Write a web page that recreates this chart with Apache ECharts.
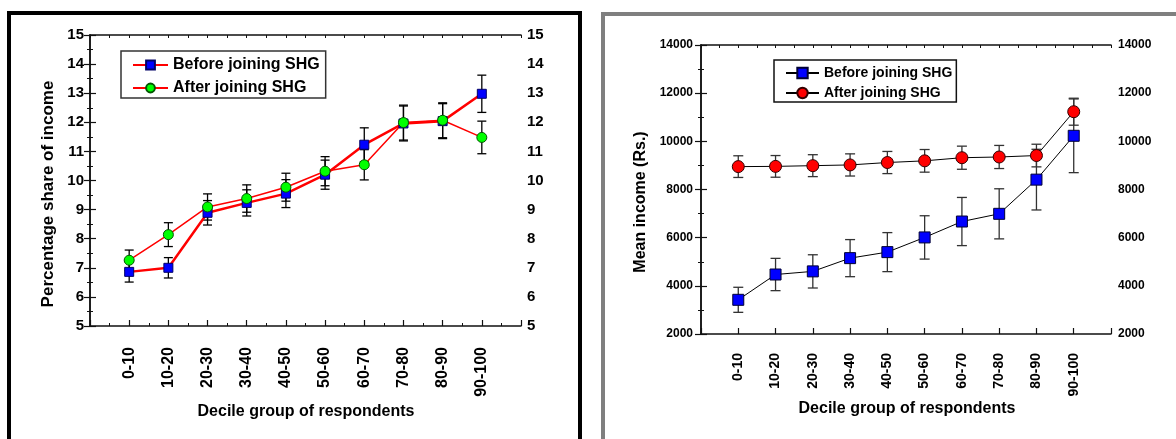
<!DOCTYPE html>
<html><head><meta charset="utf-8">
<script src="https://cdn.jsdelivr.net/npm/echarts@6/dist/echarts.min.js"></script>
<style>html,body{margin:0;padding:0;background:#fff;}#c{width:1176px;height:439px;}</style>
</head><body><div id="c"></div>
<script>
var categories = ['0-10','10-20','20-30','30-40','40-50','50-60','60-70','70-80','80-90','90-100'];
var shareTicks = [5,6,7,8,9,10,11,12,13,14,15];
var incomeTicks = [2000,4000,6000,8000,10000,12000,14000];

var shareBefore    = [6.86, 7.00, 8.89, 9.23, 9.55, 10.20, 11.23, 11.96, 12.04, 12.98];
var shareBeforeErr = [0.35, 0.35, 0.42, 0.45, 0.48, 0.50, 0.58, 0.60, 0.60, 0.64];
var shareAfter     = [7.26, 8.14, 9.09, 9.38, 9.77, 10.32, 10.54, 11.99, 12.07, 11.48];
var shareAfterErr  = [0.35, 0.41, 0.45, 0.47, 0.48, 0.50, 0.52, 0.60, 0.60, 0.56];

var incomeBefore    = [3420, 4470, 4600, 5150, 5400, 6010, 6670, 6990, 8410, 10230];
var incomeBeforeErr = [520, 670, 690, 770, 810, 900, 1000, 1040, 1260, 1530];
var incomeAfter     = [8950, 8960, 8990, 9020, 9120, 9190, 9320, 9350, 9410, 11230];
var incomeAfterErr  = [450, 450, 455, 460, 460, 470, 480, 480, 470, 560];

var FONT = "'Liberation Sans', Arial, sans-serif";

function pts(vals){ return vals.map(function(v,i){ return [i+1, v]; }); }
function errs(vals, e){ return vals.map(function(v,i){ return [i+1, v-e[i], v+e[i]]; }); }

function errSeries(data, xi, yi, color, lw, cap){
  return {
    type:'custom', xAxisIndex:xi, yAxisIndex:yi, data:data, silent:true,
    encode:{x:0, y:[1,2]},
    renderItem:function(params, api){
      var x = api.value(0);
      var a = api.coord([x, api.value(2)]);
      var b = api.coord([x, api.value(1)]);
      var st = {stroke:color, lineWidth:lw};
      return {type:'group', children:[
        {type:'line', shape:{x1:a[0], y1:a[1], x2:b[0], y2:b[1]}, style:st},
        {type:'line', shape:{x1:a[0]-cap, y1:a[1], x2:a[0]+cap, y2:a[1]}, style:st},
        {type:'line', shape:{x1:b[0]-cap, y1:b[1], x2:b[0]+cap, y2:b[1]}, style:st}
      ]};
    }
  };
}

function catFmt(v){ var i = Math.round(v); return (i>=1 && i<=10 && Math.abs(v-i)<1e-6) ? categories[i-1] : ''; }

function xBottom(g, fs, margin, minor){
  return {type:'value', gridIndex:g, position:'bottom', min:0, max:11, interval:1,
    axisLine:{show:true, lineStyle:{color:'#111', width:1.5}},
    axisTick:{show:true, inside:true, length:6, lineStyle:{color:'#111', width:1.2}},
    minorTick:{show:minor, splitNumber:2, length:3, lineStyle:{color:'#111', width:1}},
    splitLine:{show:false}, minorSplitLine:{show:false},
    axisLabel:{show:true, rotate:90, margin:margin, formatter:catFmt, color:'#000',
      fontSize:fs, fontWeight:'bold', fontFamily:FONT, showMinLabel:true, showMaxLabel:true}
  };
}
function xTop(g){
  return {type:'value', gridIndex:g, position:'top', min:0, max:11, interval:0.5,
    axisLine:{show:true, lineStyle:{color:'#111', width:1.5}},
    axisTick:{show:true, inside:true, length:3, lineStyle:{color:'#111', width:1}},
    splitLine:{show:false}, axisLabel:{show:false}
  };
}
function yAx(g, pos, ticks, fs, margin){
  return {type:'value', gridIndex:g, position:pos, min:ticks[0], max:ticks[ticks.length-1],
    interval:ticks[1]-ticks[0],
    axisLine:{show:true, lineStyle:{color:'#111', width:1.5}},
    axisTick:{show:true, inside:true, length:6, lineStyle:{color:'#111', width:1.2}},
    minorTick:{show:true, splitNumber:2, length:3, lineStyle:{color:'#111', width:1}},
    splitLine:{show:false}, minorSplitLine:{show:false},
    axisLabel:{show:true, margin:margin, color:'#000', fontSize:fs, fontWeight:'bold', fontFamily:FONT,
      formatter:function(v){ return String(v); },
      showMinLabel:true, showMaxLabel:true}
  };
}

var option = {
  animation:false,
  backgroundColor:'#fff',
  grid:[
    {left:90, top:35, width:431, height:291, outerBoundsMode:'none', containLabel:false},
    {left:701, top:45, width:410, height:289, outerBoundsMode:'none', containLabel:false}
  ],
  xAxis:[ xBottom(0, 16, 21, true), xTop(0), xBottom(1, 14, 19, false), xTop(1) ],
  yAxis:[ yAx(0,'left',shareTicks,15,6), yAx(0,'right',shareTicks,15,6),
          yAx(1,'left',incomeTicks,12,8), yAx(1,'right',incomeTicks,12,7) ],
  legend:[
    {orient:'vertical', left:121, top:51, padding:[6,6,2,11], itemGap:7, itemWidth:35, itemHeight:11,
     borderColor:'#333', borderWidth:1.5, backgroundColor:'#fff',
     data:['Before joining SHG','After joining SHG'],
     formatter:function(n){return n.trim();},
     textStyle:{fontSize:16, fontWeight:'bold', fontFamily:FONT, color:'#000'}},
    {orient:'vertical', left:774, top:60, padding:[6,4,2,11], itemGap:6, itemWidth:33, itemHeight:13,
     borderColor:'#111', borderWidth:1.5, backgroundColor:'#fff',
     data:['Before joining SHG ','After joining SHG '],
     formatter:function(n){return n.trim();},
     textStyle:{fontSize:14, fontWeight:'bold', fontFamily:FONT, color:'#000'}}
  ],
  graphic:{elements:[
    {type:'rect', shape:{x:9, y:13, width:571, height:450}, style:{fill:'none', stroke:'#000', lineWidth:4}, silent:true},
    {type:'rect', shape:{x:603, y:14, width:620, height:450}, style:{fill:'none', stroke:'#7f7f7f', lineWidth:4}, silent:true},
    {type:'text', x:48, y:194, rotation:Math.PI/2, style:{text:'Percentage share of income', font:'bold 17px '+FONT, fill:'#000', textAlign:'center', textVerticalAlign:'middle'}},
    {type:'text', x:306, y:412, style:{text:'Decile group of respondents', font:'bold 16px '+FONT, fill:'#000', textAlign:'center', textVerticalAlign:'middle'}},
    {type:'text', x:641, y:202, rotation:Math.PI/2, style:{text:'Mean income (Rs.)', font:'bold 16px '+FONT, fill:'#000', textAlign:'center', textVerticalAlign:'middle'}},
    {type:'text', x:907, y:409, style:{text:'Decile group of respondents', font:'bold 16px '+FONT, fill:'#000', textAlign:'center', textVerticalAlign:'middle'}}
  ]},
  series:[
    errSeries(errs(shareBefore, shareBeforeErr), 0, 0, '#000', 1.3, 4.5),
    errSeries(errs(shareAfter, shareAfterErr), 0, 0, '#000', 1.3, 4.5),
    {name:'Before joining SHG', type:'line', xAxisIndex:0, yAxisIndex:0, data:pts(shareBefore),
     symbol:'rect', symbolSize:9, lineStyle:{color:'#ff0000', width:2.5},
     itemStyle:{color:'#0000ff', borderColor:'#000066', borderWidth:1}},
    {name:'After joining SHG', type:'line', xAxisIndex:0, yAxisIndex:0, data:pts(shareAfter),
     symbol:'circle', symbolSize:10, lineStyle:{color:'#ff0000', width:1.5},
     itemStyle:{color:'#00ff00', borderColor:'#005500', borderWidth:1}},
    errSeries(errs(incomeBefore, incomeBeforeErr), 2, 2, '#333', 1.3, 5),
    errSeries(errs(incomeAfter, incomeAfterErr), 2, 2, '#333', 1.3, 5),
    {name:'Before joining SHG ', type:'line', xAxisIndex:2, yAxisIndex:2, data:pts(incomeBefore),
     symbol:'rect', symbolSize:11, lineStyle:{color:'#000', width:1},
     itemStyle:{color:'#0000ff', borderColor:'#000033', borderWidth:1}},
    {name:'After joining SHG ', type:'line', xAxisIndex:2, yAxisIndex:2, data:pts(incomeAfter),
     symbol:'circle', symbolSize:12, lineStyle:{color:'#000', width:1},
     itemStyle:{color:'#ff0000', borderColor:'#330000', borderWidth:1}}
  ]
};
var chart = echarts.init(document.getElementById('c'), null, {renderer:'canvas'});
chart.setOption(option);
</script></body></html>
